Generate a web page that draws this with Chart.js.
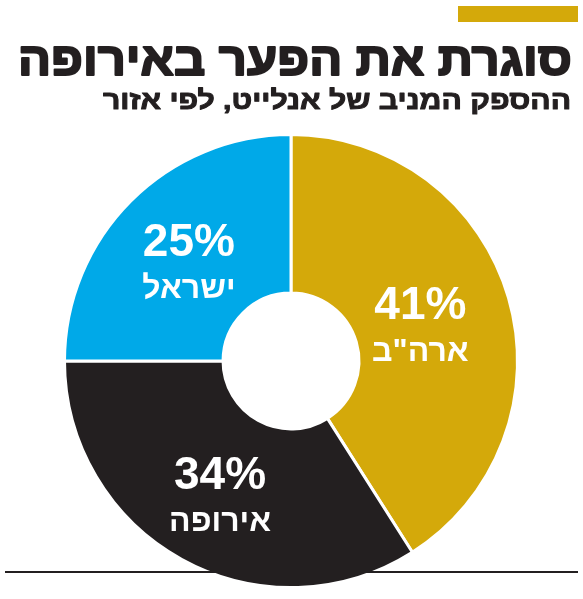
<!DOCTYPE html>
<html><head><meta charset="utf-8">
<script src="https://cdn.jsdelivr.net/npm/chart.js@4"></script>
<style>html,body{margin:0;padding:0;background:#fff}#w{width:583px;height:599px;position:relative}</style>
</head><body><div id="w"><canvas id="c"></canvas></div>
<script>
const categories = ['ארה"ב', 'אירופה', 'ישראל'];
const values = [41, 34, 25];
const colors = ['#d4a90a', '#231f20', '#00a9e8'];
const title = 'סוגרת את הפער באירופה';
const subtitle = 'ההספק המניב של אנלייט, לפי אזור';

function fitText(ctx, text, xRight, y, font, maxW, stroke) {
  ctx.save();
  ctx.font = font;
  const w = ctx.measureText(text).width;
  const s = maxW / w;
  ctx.translate(xRight, y);
  ctx.scale(s, 1);
  ctx.textAlign = 'right';
  ctx.direction = 'rtl';
  ctx.fillText(text, 0, 0);
  if (stroke) { ctx.strokeStyle = ctx.fillStyle; ctx.lineWidth = stroke; ctx.lineJoin = 'round'; ctx.strokeText(text, 0, 0); }
  ctx.restore();
}
const deco = {
  id: 'deco',
  afterDraw(chart) {
    const ctx = chart.ctx;
    ctx.save();
    ctx.fillStyle = '#d4a90a';
    ctx.fillRect(458, 6, 120, 16);
    ctx.fillStyle = '#231f20';
    ctx.textBaseline = 'alphabetic';
    fitText(ctx, title, 572, 75, 'bold 46px "Liberation Sans"', 554, 2);
    fitText(ctx, subtitle, 571, 109, 'bold 26px "Liberation Sans"', 468, 1);
    ctx.fillRect(5, 571, 573, 2);
    const meta = chart.getDatasetMeta(0);
    const dx = [-12, 0, 2];
    meta.data.forEach((arc, i) => {
      const p = arc.tooltipPosition();
      ctx.fillStyle = '#fff';
      ctx.textAlign = 'center';
      ctx.textBaseline = 'middle';
      ctx.font = 'bold 46px "Liberation Sans"';
      ctx.fillText(values[i] + '%', p.x + dx[i], p.y - 14);
      ctx.font = 'bold 32px "Liberation Sans"';
      ctx.direction = 'rtl';
      ctx.fillText(categories[i], p.x + dx[i], p.y + 32);
      ctx.direction = 'ltr';
    });
    ctx.restore();
  }
};
new Chart(document.getElementById('c'), {
  type: 'doughnut',
  data: { labels: categories, datasets: [{ data: values, backgroundColor: colors, borderColor: '#fff', borderWidth: 3 }] },
  options: {
    responsive: true, maintainAspectRatio: false, animation: false,
    cutout: '30%',
    layout: { padding: { top: 133, bottom: 10, left: 63, right: 64 } },
    plugins: { legend: { display: false }, tooltip: { enabled: false } }
  },
  plugins: [deco]
});
</script></body></html>
